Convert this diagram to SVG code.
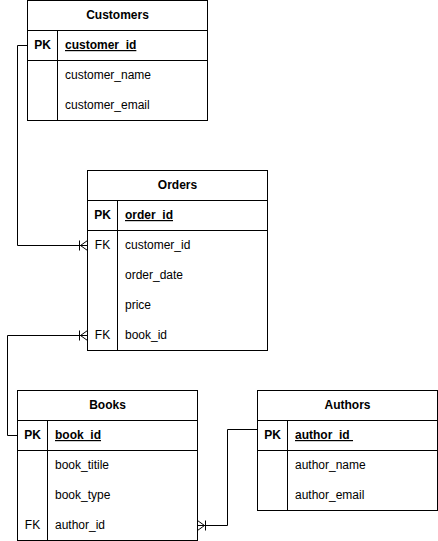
<svg xmlns="http://www.w3.org/2000/svg" width="438" height="541" viewBox="0 0 438 541">
  <style>
    .box { fill: #ffffff; stroke: #000000; stroke-width: 1; }
    .ln { fill: none; stroke: #000000; stroke-width: 1; }
    .title { font-family: "Liberation Sans", Arial, sans-serif; font-size: 12px; font-weight: bold; text-anchor: middle; fill: #000; }
    .key { font-family: "Liberation Sans", Arial, sans-serif; font-size: 12px; font-weight: bold; text-anchor: middle; fill: #000; }
    .fk { font-family: "Liberation Sans", Arial, sans-serif; font-size: 12px; text-anchor: middle; fill: #000; }
    .pkname { font-family: "Liberation Sans", Arial, sans-serif; font-size: 12px; font-weight: bold; text-decoration: underline; fill: #000; }
    .field { font-family: "Liberation Sans", Arial, sans-serif; font-size: 12px; fill: #000; }
    .conn { fill: none; stroke: #000000; stroke-width: 1; }
  </style>
  <defs>
    <!-- one-to-many crow's foot with bar -->
    <marker id="oneToMany" markerUnits="userSpaceOnUse" viewBox="-10 -6 11 12" refX="0" refY="0" markerWidth="11" markerHeight="12" orient="auto" overflow="visible">
      <path d="M-7,0 L0,-5 M-7,0 L0,5 M-8,-5 V5 M-10,0 H0" fill="none" stroke="#000" stroke-width="1"/>
    </marker>
  </defs>
  <rect width="438" height="541" fill="#ffffff"/>

  <g id="connectors">
    <path class="conn" d="M27.5,45.5 H17.5 V245.5 H87.5" marker-end="url(#oneToMany)"/>
    <path class="conn" d="M17.5,435.5 H7.5 V335.5 H87.5" marker-end="url(#oneToMany)"/>
    <path class="conn" d="M257.5,429.5 H227.5 V525.5 H197.5" marker-end="url(#oneToMany)"/>
  </g>

  <g id="customers">
    <rect class="box" x="27.5" y="0.5" width="180" height="120"/>
    <path class="ln" d="M27.5,30.5 H207.5 M27.5,60.5 H207.5 M57.5,30.5 V120.5"/>
    <text class="title" x="117.5" y="19">Customers</text>
    <text class="key" x="42.5" y="49">PK</text>
    <text class="pkname" x="65" y="49">customer_id</text>
    <text class="field" x="65" y="78.5">customer_name</text>
    <text class="field" x="65" y="108.5">customer_email</text>
  </g>

  <g id="orders">
    <rect class="box" x="87.5" y="170.5" width="180" height="180"/>
    <path class="ln" d="M87.5,200.5 H267.5 M87.5,230.5 H267.5 M117.5,200.5 V350.5"/>
    <text class="title" x="177.5" y="189">Orders</text>
    <text class="key" x="102.5" y="219">PK</text>
    <text class="pkname" x="125" y="219">order_id</text>
    <text class="fk" x="102.5" y="248.5">FK</text>
    <text class="field" x="125" y="248.5">customer_id</text>
    <text class="field" x="125" y="278.5">order_date</text>
    <text class="field" x="125" y="308.5">price</text>
    <text class="fk" x="102.5" y="339">FK</text>
    <text class="field" x="125" y="339">book_id</text>
  </g>

  <g id="books">
    <rect class="box" x="17.5" y="390.5" width="180" height="150"/>
    <path class="ln" d="M17.5,420.5 H197.5 M17.5,450.5 H197.5 M47.5,420.5 V540.5"/>
    <text class="title" x="107.5" y="409">Books</text>
    <text class="key" x="32.5" y="439">PK</text>
    <text class="pkname" x="55" y="439">book_id</text>
    <text class="field" x="55" y="468.5">book_titile</text>
    <text class="field" x="55" y="498.5">book_type</text>
    <text class="fk" x="32.5" y="529">FK</text>
    <text class="field" x="55" y="529">author_id</text>
  </g>

  <g id="authors">
    <rect class="box" x="257.5" y="390.5" width="180" height="120"/>
    <path class="ln" d="M257.5,420.5 H437.5 M257.5,450.5 H437.5 M287.5,420.5 V510.5"/>
    <text class="title" x="347.5" y="409">Authors</text>
    <text class="key" x="272.5" y="439">PK</text>
    <text class="pkname" x="295" y="439" xml:space="preserve">author_id </text>
    <text class="field" x="295" y="468.5">author_name</text>
    <text class="field" x="295" y="498.5">author_email</text>
  </g>
</svg>
